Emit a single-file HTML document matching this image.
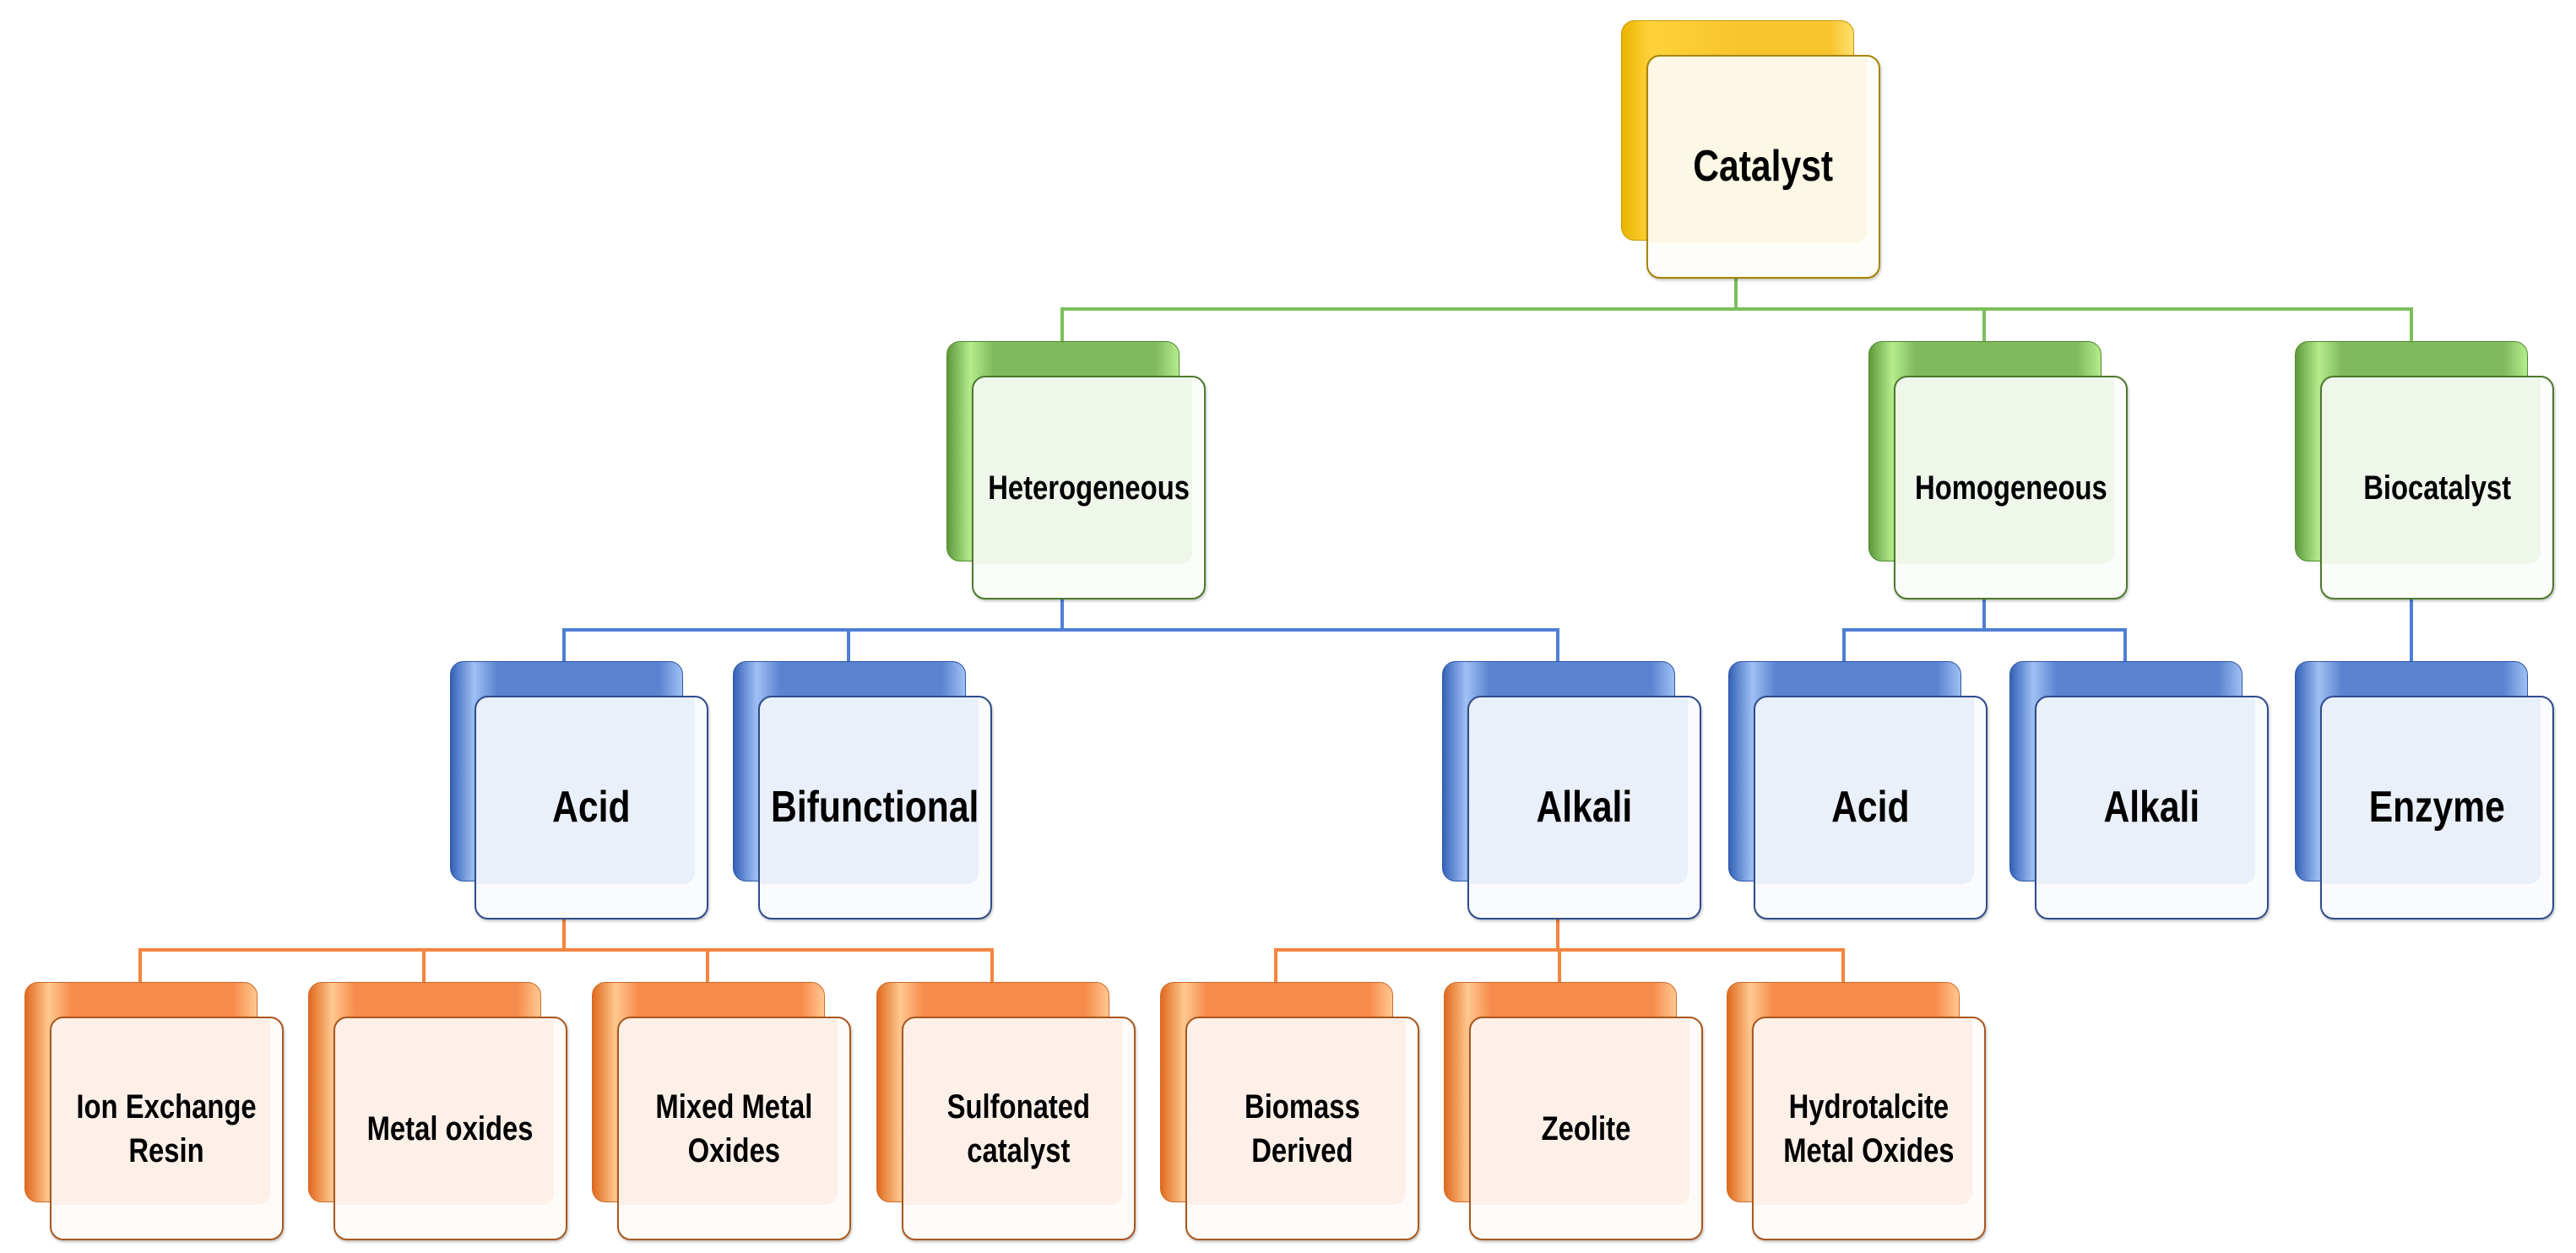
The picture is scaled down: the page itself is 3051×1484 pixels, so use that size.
<!DOCTYPE html>
<html><head><meta charset="utf-8"><style>
body{margin:0;width:3051px;height:1484px;background:#fff;position:relative;overflow:hidden;font-family:"Liberation Sans",Arial,sans-serif}
.l{position:absolute}
.b{position:absolute;width:276px;height:261px;border-radius:16px;box-sizing:border-box}
.f{position:absolute;width:277px;height:265px;border-radius:16px;box-sizing:border-box;border:2.5px solid;display:flex;align-items:center;justify-content:center;text-align:center;box-shadow:inset -14px -40px 0 rgba(255,255,255,0.75), 1px 2px 3px rgba(0,0,0,0.25)}
.f span{display:block;font-weight:bold;color:#000;transform:scaleX(0.82);white-space:nowrap;line-height:1.3}
.y .b{background:linear-gradient(90deg,#e9b400,#ffd23a 12%,#f7c52c 50%,#f7c52c 90%,#ffe070);border:1.5px solid #c89a00}
.y .f{background:#fdf7e5;border-color:#a88400}
.g .b{background:linear-gradient(90deg,#5d9a3c,#b6ec8c 10%,#80ba5e 20%,#80ba5e 90%,#b6ec8c);border:1.5px solid #4f8a30}
.g .f{background:#eff6ea;border-color:#4b7a2c}
.bl .b{background:linear-gradient(90deg,#3562b8,#9fc0f4 10%,#5a84d0 20%,#5a84d0 90%,#9fc0f4);border:1.5px solid #2f56a8}
.bl .f{background:#eaf0fa;border-color:#2e4c8c}
.o .b{background:linear-gradient(90deg,#e06a1e,#ffc890 10%,#f78b4c 20%,#f78b4c 90%,#ffc890);border:1.5px solid #d06a28}
.o .f{background:#fdf0e8;border-color:#a8581e}
</style></head><body>

<!-- connectors -->
<div class="l" style="left:1256px;top:364px;width:1602px;height:4px;background:#7cbf5c"></div>
<div class="l" style="left:2054px;top:330px;width:4px;height:36px;background:#7cbf5c"></div>
<div class="l" style="left:1256px;top:366px;width:4px;height:40px;background:#7cbf5c"></div>
<div class="l" style="left:2348px;top:366px;width:4px;height:40px;background:#7cbf5c"></div>
<div class="l" style="left:2854px;top:366px;width:4px;height:40px;background:#7cbf5c"></div>

<div class="l" style="left:666px;top:744px;width:1181px;height:4px;background:#4f7fd6"></div>
<div class="l" style="left:1256px;top:700px;width:4px;height:46px;background:#4f7fd6"></div>
<div class="l" style="left:666px;top:746px;width:4px;height:40px;background:#4f7fd6"></div>
<div class="l" style="left:1003px;top:746px;width:4px;height:40px;background:#4f7fd6"></div>
<div class="l" style="left:1843px;top:746px;width:4px;height:40px;background:#4f7fd6"></div>
<div class="l" style="left:2182px;top:744px;width:337px;height:4px;background:#4f7fd6"></div>
<div class="l" style="left:2348px;top:700px;width:4px;height:46px;background:#4f7fd6"></div>
<div class="l" style="left:2182px;top:746px;width:4px;height:40px;background:#4f7fd6"></div>
<div class="l" style="left:2515px;top:746px;width:4px;height:40px;background:#4f7fd6"></div>
<div class="l" style="left:2854px;top:700px;width:4px;height:86px;background:#4f7fd6"></div>

<div class="l" style="left:164px;top:1123px;width:1013px;height:4px;background:#f4843e"></div>
<div class="l" style="left:666px;top:1080px;width:4px;height:45px;background:#f4843e"></div>
<div class="l" style="left:164px;top:1125px;width:4px;height:40px;background:#f4843e"></div>
<div class="l" style="left:500px;top:1125px;width:4px;height:40px;background:#f4843e"></div>
<div class="l" style="left:836px;top:1125px;width:4px;height:40px;background:#f4843e"></div>
<div class="l" style="left:1173px;top:1125px;width:4px;height:40px;background:#f4843e"></div>
<div class="l" style="left:1509px;top:1123px;width:676px;height:4px;background:#f4843e"></div>
<div class="l" style="left:1843px;top:1080px;width:4px;height:45px;background:#f4843e"></div>
<div class="l" style="left:1509px;top:1125px;width:4px;height:40px;background:#f4843e"></div>
<div class="l" style="left:1845px;top:1125px;width:4px;height:40px;background:#f4843e"></div>
<div class="l" style="left:2181px;top:1125px;width:4px;height:40px;background:#f4843e"></div>

<!-- nodes -->
<div class="y"><div class="b" style="left:1920px;top:24px"></div><div class="f" style="left:1950px;top:65px"><span style="font-size:52px">Catalyst</span></div></div>

<div class="g"><div class="b" style="left:1121px;top:404px"></div><div class="f" style="left:1151px;top:445px"><span style="font-size:40px">Heterogeneous</span></div></div>
<div class="g"><div class="b" style="left:2213px;top:404px"></div><div class="f" style="left:2243px;top:445px"><span style="font-size:40px">Homogeneous</span></div></div>
<div class="g"><div class="b" style="left:2718px;top:404px"></div><div class="f" style="left:2748px;top:445px"><span style="font-size:40px">Biocatalyst</span></div></div>

<div class="bl"><div class="b" style="left:533px;top:783px"></div><div class="f" style="left:562px;top:824px"><span style="font-size:52px">Acid</span></div></div>
<div class="bl"><div class="b" style="left:868px;top:783px"></div><div class="f" style="left:898px;top:824px"><span style="font-size:52px">Bifunctional</span></div></div>
<div class="bl"><div class="b" style="left:1708px;top:783px"></div><div class="f" style="left:1738px;top:824px"><span style="font-size:52px">Alkali</span></div></div>
<div class="bl"><div class="b" style="left:2047px;top:783px"></div><div class="f" style="left:2077px;top:824px"><span style="font-size:52px">Acid</span></div></div>
<div class="bl"><div class="b" style="left:2380px;top:783px"></div><div class="f" style="left:2410px;top:824px"><span style="font-size:52px">Alkali</span></div></div>
<div class="bl"><div class="b" style="left:2718px;top:783px"></div><div class="f" style="left:2748px;top:824px"><span style="font-size:52px">Enzyme</span></div></div>

<div class="o"><div class="b" style="left:29px;top:1163px"></div><div class="f" style="left:59px;top:1204px"><span style="font-size:40px">Ion Exchange<br>Resin</span></div></div>
<div class="o"><div class="b" style="left:365px;top:1163px"></div><div class="f" style="left:395px;top:1204px"><span style="font-size:40px">Metal oxides</span></div></div>
<div class="o"><div class="b" style="left:701px;top:1163px"></div><div class="f" style="left:731px;top:1204px"><span style="font-size:40px">Mixed Metal<br>Oxides</span></div></div>
<div class="o"><div class="b" style="left:1038px;top:1163px"></div><div class="f" style="left:1068px;top:1204px"><span style="font-size:40px">Sulfonated<br>catalyst</span></div></div>
<div class="o"><div class="b" style="left:1374px;top:1163px"></div><div class="f" style="left:1404px;top:1204px"><span style="font-size:40px">Biomass<br>Derived</span></div></div>
<div class="o"><div class="b" style="left:1710px;top:1163px"></div><div class="f" style="left:1740px;top:1204px"><span style="font-size:40px">Zeolite</span></div></div>
<div class="o"><div class="b" style="left:2045px;top:1163px"></div><div class="f" style="left:2075px;top:1204px"><span style="font-size:40px">Hydrotalcite<br>Metal Oxides</span></div></div>

</body></html>
